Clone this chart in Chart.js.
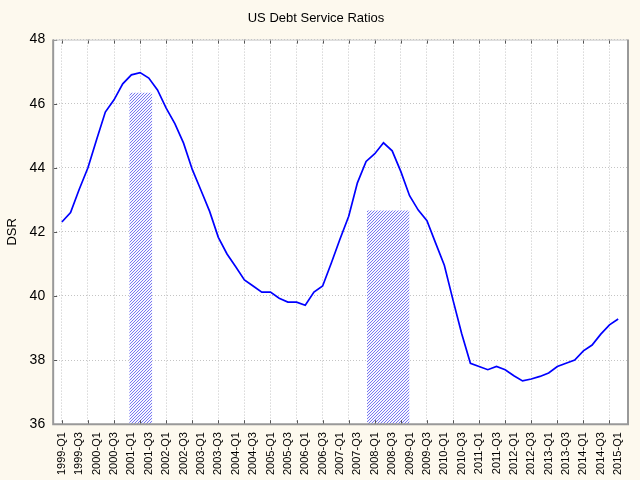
<!DOCTYPE html>
<html>
<head>
<meta charset="utf-8">
<script src="https://cdn.jsdelivr.net/npm/chart.js@4/dist/chart.umd.min.js"></script>
<style>
  html, body { margin: 0; padding: 0; background: #fdf9ee; }
  #wrap { width: 640px; height: 480px; }
</style>
</head>
<body>
<div id="wrap"><canvas id="c" width="640" height="480"></canvas></div>
<script>
const quarters = [
  '1999-Q1','1999-Q2','1999-Q3','1999-Q4','2000-Q1','2000-Q2','2000-Q3','2000-Q4',
  '2001-Q1','2001-Q2','2001-Q3','2001-Q4','2002-Q1','2002-Q2','2002-Q3','2002-Q4',
  '2003-Q1','2003-Q2','2003-Q3','2003-Q4','2004-Q1','2004-Q2','2004-Q3','2004-Q4',
  '2005-Q1','2005-Q2','2005-Q3','2005-Q4','2006-Q1','2006-Q2','2006-Q3','2006-Q4',
  '2007-Q1','2007-Q2','2007-Q3','2007-Q4','2008-Q1','2008-Q2','2008-Q3','2008-Q4',
  '2009-Q1','2009-Q2','2009-Q3','2009-Q4','2010-Q1','2010-Q2','2010-Q3','2010-Q4',
  '2011-Q1','2011-Q2','2011-Q3','2011-Q4','2012-Q1','2012-Q2','2012-Q3','2012-Q4',
  '2013-Q1','2013-Q2','2013-Q3','2013-Q4','2014-Q1','2014-Q2','2014-Q3','2014-Q4',
  '2015-Q1'
];
const dsr = [
  42.31, 42.60, 43.33, 44.00, 44.88, 45.74, 46.12, 46.62,
  46.90, 46.97, 46.80, 46.43, 45.86, 45.38, 44.77, 43.95,
  43.30, 42.64, 41.83, 41.31, 40.91, 40.50, 40.31, 40.12,
  40.12, 39.93, 39.81, 39.81, 39.71, 40.12, 40.31, 41.03,
  41.78, 42.49, 43.53, 44.20, 44.44, 44.78, 44.53, 43.88,
  43.13, 42.68, 42.35, 41.65, 40.96, 39.87, 38.82, 37.90,
  37.80, 37.70, 37.80, 37.70, 37.51, 37.35, 37.41, 37.49,
  37.60, 37.80, 37.90, 38.00, 38.29, 38.47, 38.81, 39.10,
  39.28
];
// recession shading (in quarter-index units on the x axis)
const recessionStart = [7.75, 35.1];
const recessionEnd   = [10.4, 40.0];
const recessionTop   = [46.34, 42.67];
const yTicks = [36, 38, 40, 42, 44, 46, 48];

// hatch pattern built pixel by pixel
const pc = document.createElement('canvas');
pc.width = 3; pc.height = 3;
const pctx = pc.getContext('2d');
pctx.fillStyle = 'rgb(246,246,255)';
pctx.fillRect(0, 0, 3, 3);
pctx.fillStyle = 'rgb(120,120,240)';
for (let i = 0; i < 3; i++) pctx.fillRect(i, 2 - i, 1, 1);
const hatch = pctx.createPattern(pc, 'repeat');

const recessionSets = recessionStart.map((s, k) => ({
  type: 'line',
  data: [{x: s, y: recessionTop[k]}, {x: recessionEnd[k], y: recessionTop[k]}],
  fill: 'start',
  backgroundColor: hatch,
  borderWidth: 0,
  borderColor: 'rgba(0,0,0,0)',
  pointRadius: 0,
  order: 2
}));

const frame = {
  id: 'frame',
  beforeDraw(chart) {
    const {ctx, chartArea: a} = chart;
    ctx.save();
    ctx.fillStyle = '#fdf9ee';
    ctx.fillRect(0, 0, chart.width, chart.height);
    ctx.fillStyle = '#ffffff';
    ctx.fillRect(a.left, a.top, a.right - a.left, a.bottom - a.top);
    ctx.restore();
  },
  afterDraw(chart) {
    const {ctx, chartArea: a, scales} = chart;
    ctx.save();
    ctx.strokeStyle = '#555';
    ctx.lineWidth = 1;
    ctx.beginPath();
    quarters.forEach((q, i) => {
      if (i % 3 !== 0) return;
      const x = Math.round(scales.x.getPixelForValue(i)) + 0.5;
      ctx.moveTo(x, a.bottom); ctx.lineTo(x, a.bottom - 4);
      ctx.moveTo(x, a.top); ctx.lineTo(x, a.top + 4);
    });
    yTicks.forEach(v => {
      const y = Math.round(scales.y.getPixelForValue(v)) + 0.5;
      ctx.moveTo(a.left, y); ctx.lineTo(a.left + 4, y);
    });
    ctx.stroke();
    ctx.strokeStyle = '#c8c8c8';
    ctx.lineWidth = 1;
    ctx.beginPath();
    ctx.moveTo(a.left, a.top + 0.5); ctx.lineTo(a.right, a.top + 0.5);
    ctx.stroke();
    ctx.strokeStyle = '#999999';
    ctx.lineWidth = 2;
    ctx.beginPath();
    ctx.moveTo(a.left, a.top); ctx.lineTo(a.left, a.bottom);
    ctx.lineTo(a.right, a.bottom); ctx.lineTo(a.right, a.top);
    ctx.stroke();
    ctx.restore();
  }
};

new Chart(document.getElementById('c'), {
  type: 'line',
  data: {
    datasets: [
      {
        data: dsr.map((v, i) => ({x: i, y: v})),
        borderColor: '#0000ff',
        borderWidth: 1.7,
        pointRadius: 0,
        tension: 0,
        fill: false,
        order: 1
      },
      ...recessionSets
    ]
  },
  options: {
    responsive: false,
    animation: false,
    devicePixelRatio: 1,
    layout: { padding: { left: 4, right: 12, top: 0, bottom: -3 } },
    plugins: {
      legend: { display: false },
      tooltip: { enabled: false },
      title: {
        display: true,
        text: 'US Debt Service Ratios',
        color: '#000',
        font: { family: 'Liberation Sans', size: 13, weight: 'normal' },
        padding: { top: 11, bottom: 13 }
      }
    },
    scales: {
      x: {
        type: 'linear',
        min: -1,
        max: 65.13,
        afterBuildTicks: (axis) => { axis.ticks = quarters.map((q, i) => ({ value: i })); },
        ticks: {
          autoSkip: false,
          minRotation: 90,
          maxRotation: 90,
          padding: 8,
          color: '#000',
          font: { family: 'Liberation Sans', size: 11 },
          callback: (v) => (Number.isInteger(v) && v % 2 === 0) ? quarters[v] : ''
        },
        grid: {
          drawTicks: false,
          lineWidth: 1,
          color: (ctx) => (ctx.tick && ctx.tick.value % 3 === 0) ? '#c4c4c4' : 'rgba(0,0,0,0)'
        },
        border: { display: false, dash: [1, 2] }
      },
      y: {
        min: 36,
        max: 48,
        afterBuildTicks: (axis) => { axis.ticks = yTicks.map(v => ({ value: v })); },
        ticks: {
          padding: 8,
          color: '#000',
          font: { family: 'Liberation Sans', size: 14 }
        },
        grid: {
          drawTicks: false,
          lineWidth: 1,
          color: '#c4c4c4'
        },
        border: { display: false, dash: [1, 2] },
        title: {
          display: true,
          text: 'DSR',
          color: '#000',
          font: { family: 'Liberation Sans', size: 13 },
          padding: { top: 1, bottom: 1 }
        }
      }
    }
  },
  plugins: [frame]
});
</script>
</body>
</html>
